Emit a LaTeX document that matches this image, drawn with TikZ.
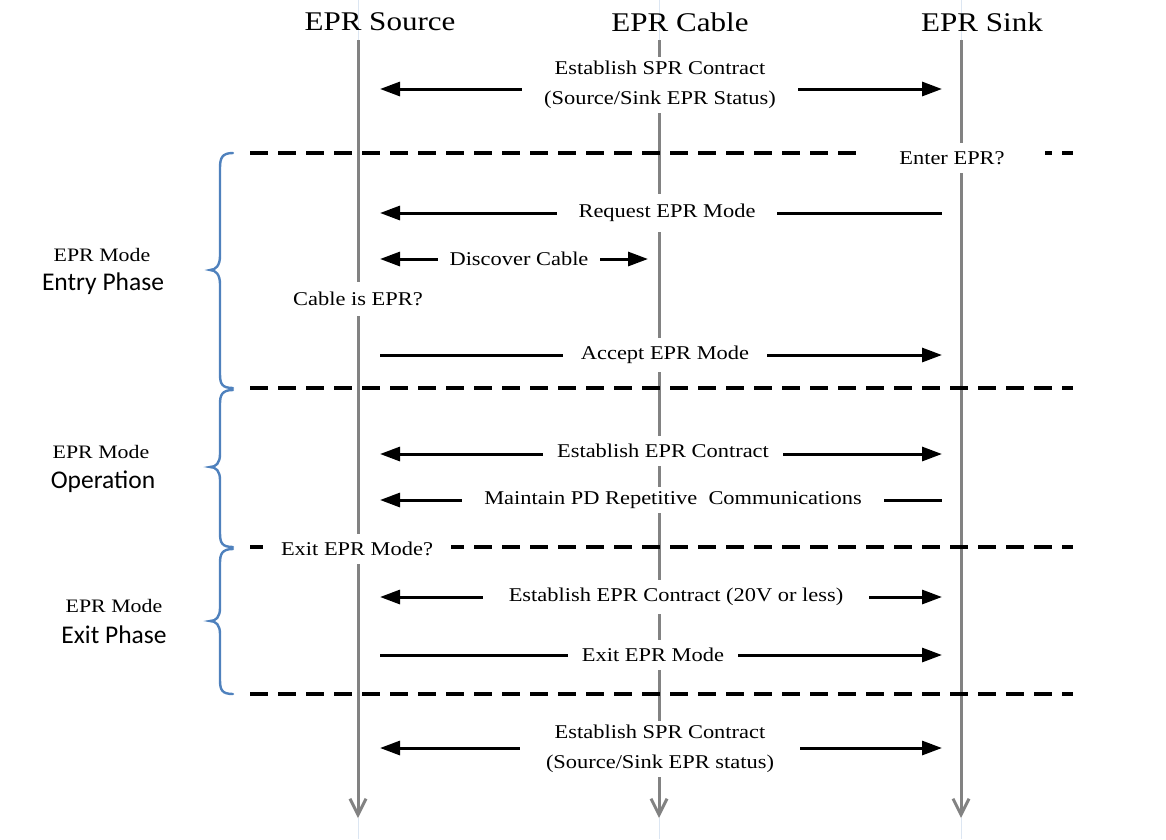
\documentclass[tikz,border=0pt]{standalone}
\usepackage{fontspec}
\setmainfont{Liberation Serif}[FakeStretch=1.15]
\newfontfamily\phasefont{Carlito}
\usetikzlibrary{arrows.meta}
\pgfdeclarelayer{back}
\pgfdeclarelayer{front}
\pgfsetlayers{back,main,front}
\definecolor{lifegray}{RGB}{130,130,130}
\definecolor{bracecol}{RGB}{79,129,189}
\definecolor{faintblue}{RGB}{220,230,242}
\tikzset{
  life/.style={draw=lifegray, line width=3pt, -{Straight Barb[length=16pt,width=16pt,line width=3pt]}},
  faint/.style={draw=faintblue, line width=1pt},
  msgR/.style={draw=black, line width=3pt, -{Triangle[length=20pt,width=14pt]}},
  msgL/.style={draw=black, line width=3pt, {Triangle[length=20pt,width=14pt]}-},
  msgB/.style={draw=black, line width=3pt, {Triangle[length=20pt,width=14pt]}-{Triangle[length=20pt,width=14pt]}},
  phaseline/.style={draw=black, line width=3.2pt, dash pattern=on 18pt off 10pt},
  phaselinebold/.style={draw=black, line width=4.4pt, dash pattern=on 18pt off 10pt},
  lbl/.style={fill=white, draw=none, inner ysep=4pt, font=\fontsize{19.5}{30}\selectfont, align=center},
  head/.style={font=\fontsize{27}{30}\selectfont, inner sep=0pt},
  modelbl/.style={font=\fontsize{19}{22}\selectfont, inner sep=0pt},
  phaselbl/.style={font=\phasefont\fontsize{25.5}{28}\selectfont, inner sep=0pt},
  brace/.style={draw=bracecol, line width=2.4pt, line cap=round}
}
\begin{document}
\begin{tikzpicture}[x=1pt,y=-1pt]
\useasboundingbox (0,0) rectangle (1166,839);
% headings
\node[head] (hsrc) at (380,22) {EPR Source};
\node[head] (hcab) at (680,22) {EPR Cable};
\node[head] (hsnk) at (982,22) {EPR Sink};
% lifelines
\coordinate (srcT) at (358,40); \coordinate (srcB) at (358,818);
\coordinate (cabT) at (659,40); \coordinate (cabB) at (659,818);
\coordinate (snkT) at (961,40); \coordinate (snkB) at (961,818);
\coordinate (srcF1) at (358,0); \coordinate (srcF2) at (358,839);
\coordinate (cabF1) at (659,0); \coordinate (cabF2) at (659,839);
\coordinate (snkF1) at (961,0); \coordinate (snkF2) at (961,839);
\begin{pgfonlayer}{back}
\draw[faint] (srcF1) -- (srcT); \draw[faint] (srcB) -- (srcF2);
\draw[faint] (cabF1) -- (cabT); \draw[faint] (cabB) -- (cabF2);
\draw[faint] (snkF1) -- (snkT); \draw[faint] (snkB) -- (snkF2);
\draw[life] (srcT) -- (srcB);
\draw[life] (cabT) -- (cabB);
\draw[life] (snkT) -- (snkB);
\end{pgfonlayer}
% phase separators
\coordinate (d1a) at (250,153); \coordinate (d1b) at (1073,153);
\coordinate (d2a) at (250,388); \coordinate (d2b) at (1073,388);
\coordinate (d3a) at (250,547); \coordinate (d3b) at (1073,547);
\coordinate (d4a) at (250,694); \coordinate (d4b) at (1073,694);
\draw[phaseline] (d1a) -- (d1b);
\draw[phaseline] (d2a) -- (d2b);
\draw[phaseline] (d3a) -- (d3b);
\draw[phaselinebold] (d4a) -- (d4b);
% message end points
\foreach \n/\y in {1/89,2/213,4/355,5/454,6/500,7/597,8/655,9/748}{
  \coordinate (s\n) at (380,\y); \coordinate (k\n) at (942,\y);
}
\coordinate (s3) at (380,259); \coordinate (c3) at (648,259);
% messages
\draw[msgB] (s1) -- (k1);
\draw[msgL] (s2) -- (k2);
\draw[msgB] (s3) -- (c3);
\draw[msgR] (s4) -- (k4);
\draw[msgB] (s5) -- (k5);
\draw[msgL] (s6) -- (k6);
\draw[msgB] (s7) -- (k7);
\draw[msgR] (s8) -- (k8);
\draw[msgB] (s9) -- (k9);
% labels
\begin{pgfonlayer}{front}
\node[lbl, inner xsep=22pt] (m1) at (660,85) {Establish SPR Contract\\(Source/Sink EPR Status)};
\node[lbl, inner xsep=22pt, inner ysep=10pt] (m2) at (667,213) {Request EPR Mode};
\node[lbl, inner xsep=12pt] (m3) at (519,259) {Discover Cable};
\node[lbl, inner xsep=18pt, inner ysep=8pt] (m4) at (665,355) {Accept EPR Mode};
\node[lbl, inner xsep=14pt, inner ysep=8pt] (m5) at (663,451) {Establish EPR Contract};
\node[lbl, inner xsep=22pt] (m6) at (673,500) {Maintain PD Repetitive\ \ Communications};
\node[lbl, inner xsep=26pt, inner ysep=8pt] (m7) at (676,597) {Establish EPR Contract (20V or less)};
\node[lbl, inner xsep=14pt, inner ysep=8pt] (m8) at (653,655) {Exit EPR Mode};
\node[lbl, inner xsep=26pt] (m9) at (660,749) {Establish SPR Contract\\(Source/Sink EPR status)};
\node[lbl, inner xsep=40pt, inner ysep=8pt] (q1) at (952,158) {Enter EPR?};
\node[lbl, inner xsep=6pt, inner ysep=10pt] (q2) at (358,299) {Cable is EPR?};
\node[lbl, inner xsep=18pt, inner ysep=8pt] (q3) at (357,549) {Exit EPR Mode?};
\end{pgfonlayer}
% braces
\draw[brace] (233,153) .. controls (222,153) and (220,158) .. (220,168) -- (220,256)
  .. controls (220,265) and (216,270) .. (210,270) .. controls (216,270) and (220,275) .. (220,284)
  -- (220,374) .. controls (220,384) and (222,388) .. (233,388);
\draw[brace] (233,390) .. controls (222,390) and (220,395) .. (220,404) -- (220,454)
  .. controls (220,463) and (216,467) .. (210,467) .. controls (216,467) and (220,471) .. (220,480)
  -- (220,533) .. controls (220,543) and (222,547) .. (233,547);
\draw[brace] (233,549) .. controls (222,549) and (220,554) .. (220,563) -- (220,608)
  .. controls (220,617) and (216,621) .. (210,621) .. controls (216,621) and (220,625) .. (220,634)
  -- (220,680) .. controls (220,690) and (222,694) .. (233,694);
% phase labels
\node[modelbl] (pm1) at (102,255) {EPR Mode};
\node[phaselbl] (pp1) at (103,284) {Entry Phase};
\node[modelbl] (pm2) at (101,452) {EPR Mode};
\node[phaselbl] (pp2) at (103,482) {Operation};
\node[modelbl] (pm3) at (114,606) {EPR Mode};
\node[phaselbl] (pp3) at (114,635) {Exit Phase};
\end{tikzpicture}
\end{document}
